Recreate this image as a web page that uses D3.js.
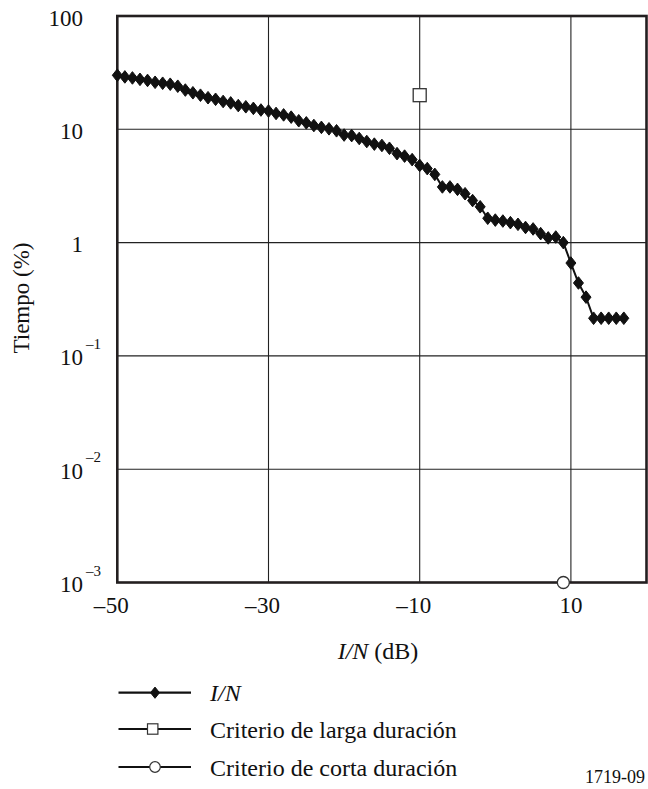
<!DOCTYPE html>
<html>
<head>
<meta charset="utf-8">
<script src="https://cdn.jsdelivr.net/npm/d3@7"></script>
<style>
  html, body { margin: 0; padding: 0; background: #fff; }
  svg { display: block; }
</style>
</head>
<body>
<svg id="chart" width="648" height="789" font-family="'Liberation Serif', Tinos, 'Times New Roman', Times, serif"></svg>
<script>
// ---- Data ----
const inDb = [-50,-49,-48,-47,-46,-45,-44,-43,-42,-41,-40,-39,-38,-37,-36,-35,-34,-33,-32,-31,
              -30,-29,-28,-27,-26,-25,-24,-23,-22,-21,-20,-19,-18,-17,-16,-15,-14,-13,-12,-11,
              -10,-9,-8,-7,-6,-5,-4,-3,-2,-1,0,1,2,3,4,5,6,7,8,9,10,11,12,13,14,15,16,17];
const inTime = [30,29,28.4,27.6,27,26,25.5,25,24,22.2,21,20,19,18.4,17.6,17.1,16.2,15.8,15.3,14.8,
                14.5,13.8,13.4,12.8,11.9,11.4,10.8,10.4,10.1,9.7,8.9,8.8,8.3,7.8,7.4,7.2,6.8,6.1,5.8,5.4,
                4.8,4.5,4.0,3.1,3.1,2.95,2.7,2.35,2.07,1.64,1.58,1.55,1.5,1.45,1.36,1.32,1.2,1.1,1.12,1.0,
                0.66,0.44,0.33,0.215,0.215,0.215,0.215,0.215];
const longTerm = [{x: -10, y: 20}];
const shortTerm = [{x: 9, y: 0.001}];
const xTicks = [-50, -30, -10, 10];
const xGrid = [-30, -10, 10];
const yTicks = [100, 10, 1, 0.1, 0.01, 0.001];
const yTickLabels = [{b:"100"},{b:"10"},{b:"1"},{b:"10",e:"–1"},{b:"10",e:"–2"},{b:"10",e:"–3"}];
const legendItems = [
  {label: "I/N", italic: true, marker: "diamond"},
  {label: "Criterio de larga duración", italic: false, marker: "square"},
  {label: "Criterio de corta duración", italic: false, marker: "circle"}
];

// ---- Layout ----
const L = 117.3, R = 646.5, T = 16, B = 582.5;
const svg = d3.select("#chart");
const x = d3.scaleLinear().domain([-50, 20]).range([L, R]);
const y = d3.scaleLog().domain([0.001, 100]).range([B, T]);
const ink = "#111";

// grid
const g = svg.append("g");
g.selectAll("line.vg").data(xGrid).join("line")
  .attr("x1", d => x(d)).attr("x2", d => x(d)).attr("y1", T).attr("y2", B)
  .attr("stroke", "#222").attr("stroke-width", 1.1);
g.selectAll("line.hg").data(yTicks.slice(1, -1)).join("line")
  .attr("x1", L).attr("x2", R).attr("y1", d => y(d)).attr("y2", d => y(d))
  .attr("stroke", "#222").attr("stroke-width", 1.1);

// frame
svg.append("rect").attr("x", L).attr("y", T).attr("width", R - L).attr("height", B - T)
  .attr("fill", "none").attr("stroke", "#231f20").attr("stroke-width", 2.6);

// y tick labels
const yl = svg.append("g").attr("fill", ink);
yTicks.forEach((v, i) => {
  const lab = yTickLabels[i];
  yl.append("text").attr("x", 83).attr("y", y(v) + 1.5).attr("dy", "0.35em")
    .attr("text-anchor", "end").attr("font-size", 23).text(lab.b);
  if (lab.e) {
    yl.append("text").attr("x", 86).attr("y", y(v) - 7).attr("font-size", 15).text(lab.e);
  }
});

// x tick labels: digits centered on tick, minus hanging left
const xl = svg.append("g").attr("fill", ink);
xTicks.forEach(v => {
  const digits = String(Math.abs(v));
  const t = xl.append("text").attr("x", x(v)).attr("y", 612.5)
    .attr("text-anchor", "middle").attr("font-size", 23).text(digits);
  if (v < 0) {
    const w = t.node().getComputedTextLength();
    xl.append("text").attr("x", x(v) - w / 2 - 0.5).attr("y", 612.5)
      .attr("text-anchor", "end").attr("font-size", 23).text("–");
  }
});

// axis titles
const xt = svg.append("text").attr("x", 378).attr("y", 659).attr("text-anchor", "middle")
  .attr("font-size", 24).attr("fill", ink);
xt.append("tspan").attr("font-style", "italic").text("I/N");
xt.append("tspan").text(" (dB)");
svg.append("text").attr("transform", "translate(29,298) rotate(-90)")
  .attr("text-anchor", "middle").attr("font-size", 23).attr("fill", ink).text("Tiempo (%)");

// markers
function diamond(sel, cx, cy, hw, hh) {
  sel.append("path").attr("d", `M${cx},${cy - hh}L${cx + hw},${cy}L${cx},${cy + hh}L${cx - hw},${cy}Z`)
    .attr("fill", ink).attr("stroke", ink).attr("stroke-width", 1);
}

// series line
const pts = inDb.map((d, i) => ({x: d, y: inTime[i]}));
const line = d3.line().x(d => x(d.x)).y(d => y(d.y));
svg.append("path").datum(pts).attr("d", line).attr("fill", "none")
  .attr("stroke", ink).attr("stroke-width", 2);
const mk = svg.append("g");
pts.forEach(p => diamond(mk, x(p.x), y(p.y), 5, 6.3));

// long-term square
svg.selectAll("rect.lt").data(longTerm).join("rect")
  .attr("x", d => x(d.x) - 6.5).attr("y", d => y(d.y) - 6.5)
  .attr("width", 13).attr("height", 13)
  .attr("fill", "#fff").attr("stroke", "#333").attr("stroke-width", 1.3);
// short-term circle
svg.selectAll("circle.st").data(shortTerm).join("circle")
  .attr("cx", d => x(d.x)).attr("cy", d => y(d.y)).attr("r", 6)
  .attr("fill", "#fff").attr("stroke", "#333").attr("stroke-width", 1.3);

// legend
const legY = [692.7, 729, 767];
legendItems.forEach((it, i) => {
  const ly = legY[i];
  svg.append("line").attr("x1", 118.5).attr("x2", 191).attr("y1", ly).attr("y2", ly)
    .attr("stroke", ink).attr("stroke-width", 2.2);
  if (it.marker === "diamond") diamond(svg, 155, ly, 4.5, 5.6);
  if (it.marker === "square") svg.append("rect").attr("x", 147.5).attr("y", ly - 5.2)
    .attr("width", 10.4).attr("height", 10.4).attr("fill", "#fff").attr("stroke", "#333").attr("stroke-width", 1.2);
  if (it.marker === "circle") svg.append("circle").attr("cx", 155).attr("cy", ly).attr("r", 5.3)
    .attr("fill", "#fff").attr("stroke", "#333").attr("stroke-width", 1.2);
  svg.append("text").attr("x", 210).attr("y", ly + 8.5).attr("font-size", 24).attr("fill", ink)
    .attr("font-style", it.italic ? "italic" : "normal").text(it.label);
});

// figure number
svg.append("text").attr("x", 645).attr("y", 783).attr("text-anchor", "end")
  .attr("font-size", 18).attr("fill", ink).text("1719-09");
</script>
</body>
</html>
